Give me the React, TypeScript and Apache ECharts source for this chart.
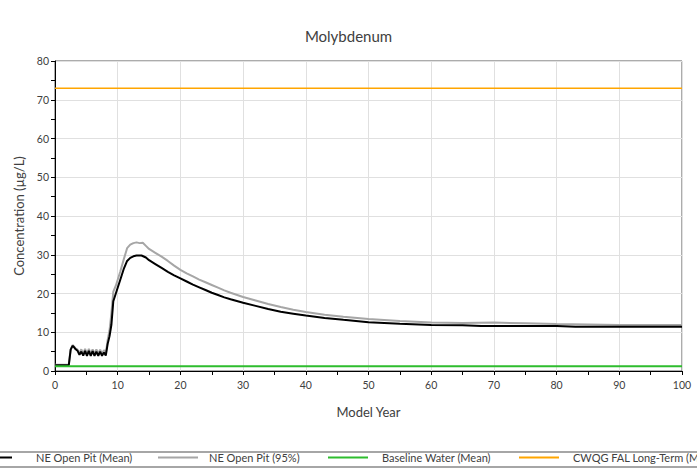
import React, { useEffect, useRef } from "react";
import * as echarts from "echarts";

const TITLE = "Molybdenum";
const X_NAME = "Model Year";
const Y_NAME = "Concentration (µg/L)";
const SERIES_NAMES = ["NE Open Pit (Mean)", "NE Open Pit (95%)", "Baseline Water (Mean)", "CWQG FAL Long-Term (Mean)"];

const meanYears = [0, 2.2, 2.5, 2.8, 3.0, 3.3, 3.6, 3.9, 4.2, 4.5, 4.8, 5.1, 5.4, 5.7, 6.0, 6.3, 6.6, 6.9, 7.2, 7.5, 7.8, 8.1, 8.4, 8.7, 9.0, 9.3, 9.7, 10.4, 11, 11.5, 12, 12.5, 13, 13.8, 14.5, 15, 16, 17, 18, 19, 20, 21, 22, 23, 24, 25, 26, 27, 28, 30, 32, 34, 36, 38, 40, 43, 46, 50, 55, 60, 65, 68, 75, 80, 83, 90, 100];
const meanValues = [1.5, 1.5, 5.5, 6.5, 6.2, 5.6, 5.2, 4.2, 5.0, 4.0, 5.2, 3.9, 5.2, 3.9, 5.1, 3.9, 5.0, 3.9, 5.0, 3.9, 4.8, 4.0, 7.0, 9.0, 12, 18, 20, 23.5, 26.5, 28.4, 29.2, 29.6, 29.8, 29.8, 29.3, 28.6, 27.6, 26.6, 25.6, 24.7, 23.9, 23.1, 22.3, 21.6, 20.9, 20.2, 19.6, 19.0, 18.5, 17.6, 16.8, 16.0, 15.3, 14.8, 14.3, 13.7, 13.2, 12.6, 12.2, 11.9, 11.8, 11.6, 11.6, 11.6, 11.4, 11.4, 11.4];

const p95Years = [0, 2.2, 2.5, 2.8, 3.0, 3.3, 3.6, 3.9, 4.2, 4.5, 4.8, 5.1, 5.4, 5.7, 6.0, 6.3, 6.6, 6.9, 7.2, 7.5, 7.8, 8.1, 8.4, 8.7, 9.0, 9.3, 9.7, 10.4, 11, 11.5, 12, 12.5, 13, 13.5, 14, 14.5, 15, 16, 17, 18, 19, 20, 21, 22, 23, 24, 25, 26, 27, 28, 30, 32, 34, 36, 38, 40, 43, 46, 50, 55, 60, 65, 70, 75, 80, 85, 90, 100];
const p95Values = [1.6, 1.6, 5.6, 6.7, 6.4, 5.8, 5.5, 4.6, 5.6, 4.5, 5.7, 4.4, 5.7, 4.4, 5.6, 4.4, 5.6, 4.4, 5.5, 4.4, 5.4, 4.5, 8.0, 10.5, 15, 20.5, 22, 25.6, 29, 31.7, 32.6, 33.0, 33.2, 33.0, 33.1, 32.3, 31.5, 30.5, 29.5, 28.4, 27.2, 26.1, 25.2, 24.4, 23.6, 22.9, 22.2, 21.5, 20.8, 20.2, 19.1, 18.2, 17.3, 16.5, 15.8, 15.2, 14.5, 14.0, 13.4, 12.9, 12.5, 12.4, 12.5, 12.3, 12.1, 12.0, 11.9, 11.9];

const baselineYears = [0, 100];
const baselineValues = [1.2, 1.2];

const cwqgYears = [0, 100];
const cwqgValues = [73, 73];

const X_MIN = 0, X_MAX = 100, X_STEP = 10;
const Y_MIN = 0, Y_MAX = 80, Y_STEP = 10;

const FONT = "Lato";

const pairs = (xs: number[], ys: number[]) => xs.map((x, i) => [x, ys[i]]);

export default function App() {
  const ref = useRef<HTMLDivElement>(null);
  useEffect(() => {
    if (!ref.current) return;
    const chart = echarts.init(ref.current, undefined, { renderer: "svg" });
    const legendBase = {
      top: 452,
      padding: 0,
      itemWidth: 40,
      itemHeight: 14,
      icon: "path://M0,6L40,6L40,8L0,8Z",
      textStyle: { fontFamily: FONT, fontSize: 11, color: "#404040", padding: [0, 0, 0, 8] },
    };
    chart.setOption({
      animation: false,
      textStyle: { fontFamily: FONT },
      title: {
        text: TITLE,
        left: "center",
        top: 23,
        textStyle: { fontFamily: FONT, fontSize: 15, fontWeight: "normal", color: "#404040" },
      },
      legend: [
        { ...legendBase, left: -28, data: [SERIES_NAMES[0]], textStyle: { ...legendBase.textStyle, padding: [0, 0, 0, 19] } },
        { ...legendBase, left: 158, data: [SERIES_NAMES[1]], textStyle: { ...legendBase.textStyle, padding: [0, 0, 0, 6] } },
        { ...legendBase, left: 328, data: [SERIES_NAMES[2]], textStyle: { ...legendBase.textStyle, padding: [0, 0, 0, 9] } },
        { ...legendBase, left: 519, data: [SERIES_NAMES[3]], textStyle: { ...legendBase.textStyle, padding: [0, 0, 0, 9] } },
      ],
      graphic: [
        {
          type: "rect",
          shape: { x: -4, y: 452, width: 710, height: 15 },
          style: { fill: "none", stroke: "#a6a6a6", lineWidth: 2 },
          silent: true,
        },
      ],
      grid: {
        left: 55,
        right: 15,
        top: 61,
        bottom: 105,
        show: true,
        borderColor: "#595959",
        borderWidth: 1,
        backgroundColor: "transparent",
      },
      xAxis: {
        type: "value",
        min: X_MIN,
        max: X_MAX,
        interval: X_STEP,
        name: X_NAME,
        nameLocation: "middle",
        nameGap: 34,
        nameTextStyle: { fontFamily: FONT, fontSize: 13, color: "#404040" },
        axisLine: { lineStyle: { color: "#000", width: 1 } },
        axisTick: { show: true, length: 4, lineStyle: { color: "#000" } },
        minorTick: { show: true, splitNumber: 2, length: 4, lineStyle: { color: "#000" } },
        axisLabel: { fontFamily: FONT, fontSize: 10.5, color: "#404040", margin: 8 },
        splitLine: { show: true, lineStyle: { color: "#e0e0e0", width: 1 } },
      },
      yAxis: {
        type: "value",
        min: Y_MIN,
        max: Y_MAX,
        interval: Y_STEP,
        name: Y_NAME,
        nameLocation: "middle",
        nameGap: 27,
        nameTextStyle: { fontFamily: FONT, fontSize: 13, color: "#404040" },
        axisLine: { show: true, lineStyle: { color: "#000", width: 1 } },
        axisTick: { show: true, length: 4, lineStyle: { color: "#000" } },
        minorTick: { show: true, splitNumber: 2, length: 4, lineStyle: { color: "#000" } },
        axisLabel: { fontFamily: FONT, fontSize: 10.5, color: "#404040", margin: 6 },
        splitLine: { show: true, lineStyle: { color: "#e0e0e0", width: 1 } },
      },
      series: [
        {
          name: SERIES_NAMES[0],
          type: "line",
          data: pairs(meanYears, meanValues),
          showSymbol: false,
          color: "#000000",
          lineStyle: { color: "#000000", width: 2 },
          z: 4,
        },
        {
          name: SERIES_NAMES[1],
          type: "line",
          data: pairs(p95Years, p95Values),
          showSymbol: false,
          color: "#a6a6a6",
          lineStyle: { color: "#a6a6a6", width: 2 },
          z: 3,
        },
        {
          name: SERIES_NAMES[2],
          type: "line",
          data: pairs(baselineYears, baselineValues),
          showSymbol: false,
          color: "#2ebd2e",
          lineStyle: { color: "#2ebd2e", width: 2 },
          z: 5,
        },
        {
          name: SERIES_NAMES[3],
          type: "line",
          data: pairs(cwqgYears, cwqgValues),
          showSymbol: false,
          color: "#ffa500",
          lineStyle: { color: "#ffa500", width: 1.5 },
          z: 2,
        },
      ],
    });
    return () => chart.dispose();
  }, []);
  return <div ref={ref} style={{ width: 697, height: 476, position: "absolute", left: 0, top: 0 }} />;
}
